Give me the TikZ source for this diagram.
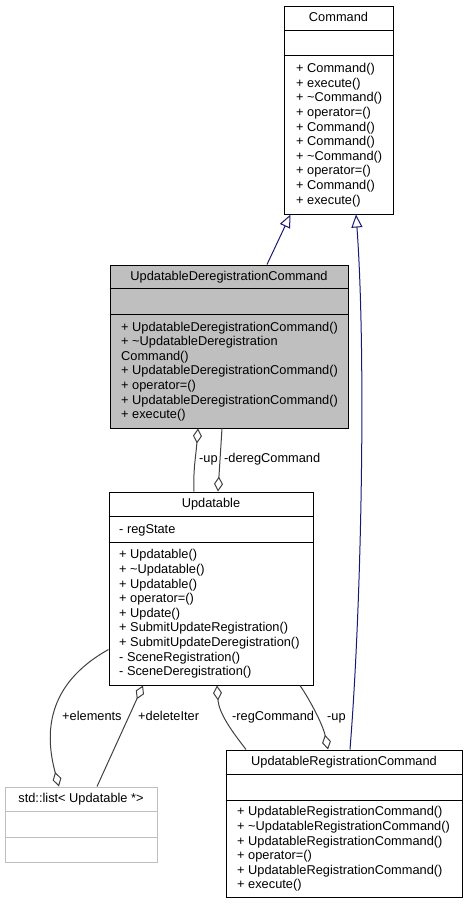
\documentclass[tikz,border=0pt]{standalone}
\usepackage{fontspec}
\setmainfont{Liberation Sans}
\usepackage{tikz}
\usetikzlibrary{arrows.meta,calc,positioning}
\definecolor{inhblue}{HTML}{191970}
\definecolor{aggrgray}{HTML}{404040}
\definecolor{grayfill}{HTML}{BFBFBF}
\tikzset{
  classbox/.style={rectangle,draw=black,line width=1pt,inner sep=0pt},
  title/.style={inner sep=0pt,text height=9pt,text depth=2.5pt},
  members/.style={anchor=west,align=left,inner sep=0pt},
  lbl/.style={anchor=west,inner sep=0pt,text height=9pt,text depth=2.5pt},
  aggr/.style={draw=aggrgray,line width=1pt,{Diamond[open,length=15pt,width=9pt]}-},
  inherit/.style={draw=inhblue,line width=1pt,-{Triangle[open,length=13pt,width=11pt]}}
}

\begin{document}
\begin{tikzpicture}[x=1pt,y=-1pt,font=\fontsize{12.8}{14.6}\selectfont]
\useasboundingbox (0,0) rectangle (467,905);

% classes
\node (cmd) at (338.5,110)[classbox,minimum width=109pt,minimum height=208pt] {};
\node (udc) at (229,346.5)[classbox,fill=grayfill,minimum width=238pt,minimum height=163pt] {};
\node (upd) at (211,588.5)[classbox,minimum width=204pt,minimum height=193pt] {};
\node (lst) at (81,824.5)[classbox,draw=grayfill,minimum width=152pt,minimum height=75pt] {};
\node (urc) at (344,823.5)[classbox,minimum width=236pt,minimum height=147pt] {};

\draw[line width=1pt] ([yshift=-25pt]cmd.north west) -- ([yshift=-25pt]cmd.north east);
\draw[line width=1pt] ([yshift=-50pt]cmd.north west) -- ([yshift=-50pt]cmd.north east);
\draw[line width=1pt] ([yshift=-24pt]udc.north west) -- ([yshift=-24pt]udc.north east);
\draw[line width=1pt] ([yshift=-50pt]udc.north west) -- ([yshift=-50pt]udc.north east);
\draw[line width=1pt] ([yshift=-25pt]upd.north west) -- ([yshift=-25pt]upd.north east);
\draw[line width=1pt] ([yshift=-51pt]upd.north west) -- ([yshift=-51pt]upd.north east);
\draw[line width=1pt,grayfill] ([yshift=-25pt]lst.north west) -- ([yshift=-25pt]lst.north east);
\draw[line width=1pt,grayfill] ([yshift=-51pt]lst.north west) -- ([yshift=-51pt]lst.north east);
\draw[line width=1pt] ([yshift=-25pt]urc.north west) -- ([yshift=-25pt]urc.north east);
\draw[line width=1pt] ([yshift=-51pt]urc.north west) -- ([yshift=-51pt]urc.north east);

\node (cmdT) at (338.5,18.5)[title] {Command};
\node (cmdM) at (296,135)[members] {+ Command()\\+ execute()\\+ \textasciitilde Command()\\+ operator=()\\+ Command()\\+ Command()\\+ \textasciitilde Command()\\+ operator=()\\+ Command()\\+ execute()};

\node (udcT) at (229,277)[title] {UpdatableDeregistrationCommand};
\node (udcM) at (121,371.5)[members] {+ UpdatableDeregistrationCommand()\\+ \textasciitilde UpdatableDeregistration\\Command()\\+ UpdatableDeregistrationCommand()\\+ operator=()\\+ UpdatableDeregistrationCommand()\\+ execute()};

\node (updT) at (211,504.5)[title] {Updatable};
\node (updA) at (119,530)[members] {- regState};
\node (updM) at (119,614)[members] {+ Updatable()\\+ \textasciitilde Updatable()\\+ Updatable()\\+ operator=()\\+ Update()\\+ SubmitUpdateRegistration()\\+ SubmitUpdateDeregistration()\\- SceneRegistration()\\- SceneDeregistration()};

\node (lstT) at (81,799.5)[title] {std::list< Updatable *>};

\node (urcT) at (344,762.5)[title] {UpdatableRegistrationCommand};
\node (urcM) at (237,849)[members] {+ UpdatableRegistrationCommand()\\+ \textasciitilde UpdatableRegistrationCommand()\\+ UpdatableRegistrationCommand()\\+ operator=()\\+ UpdatableRegistrationCommand()\\+ execute()};

% inheritance
\draw[inherit] ([xshift=38pt]udc.north) to ([xshift=-48pt]cmd.south);
\draw[inherit] ([xshift=6pt]urc.north) .. controls (362,600) and (366,350) .. ([xshift=17.5pt]cmd.south);

% aggregation
\draw[aggr] ([xshift=-31pt]udc.south) .. controls (196,455) and (193,470) .. ([xshift=-17pt]upd.north);
\draw[aggr] ([xshift=7pt]upd.north) to ([xshift=-7pt]udc.south);
\draw[aggr] ([xshift=-22pt]lst.north) .. controls (45,735) and (45,685) .. ([yshift=-61pt]upd.west);
\draw[aggr] ([xshift=-68pt]upd.south) to ([xshift=16pt]lst.north);
\draw[aggr] ([xshift=6pt]upd.south) .. controls (219,715) and (235,735) .. ([xshift=-98pt]urc.north);
\draw[aggr] ([xshift=-16pt]urc.north) .. controls (323,725) and (310,700) .. ([xshift=89pt]upd.south);

\node (lup) at (199,459)[lbl] {-up};
\node (lder) at (224,459)[lbl] {-deregCommand};
\node (lel) at (62,717)[lbl] {+elements};
\node (ldel) at (138,717)[lbl] {+deleteIter};
\node (lreg) at (232,717)[lbl] {-regCommand};
\node (lup2) at (327,717)[lbl] {-up};

\end{tikzpicture}
\end{document}
